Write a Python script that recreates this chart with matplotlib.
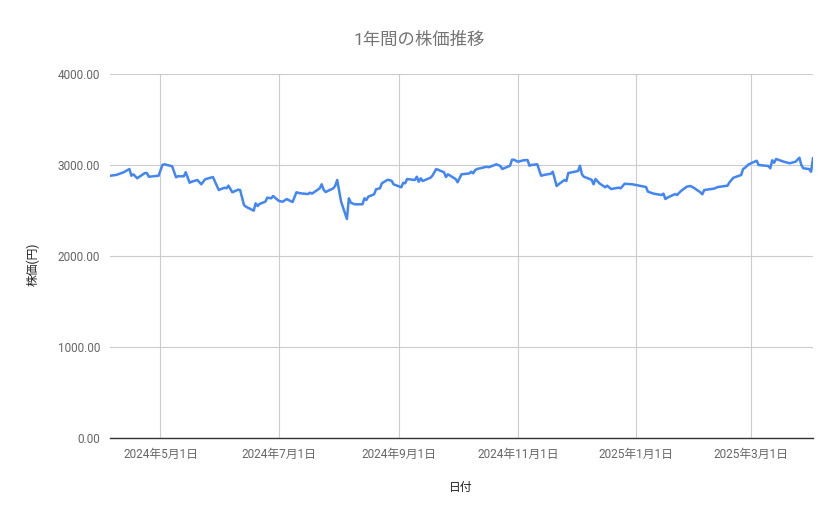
import matplotlib
matplotlib.use("Agg")
import matplotlib.pyplot as plt
import matplotlib.dates as mdates
import numpy as np
import pandas as pd

plt.rcParams["font.family"] = ["Roboto", "Noto Sans CJK JP", "DejaVu Sans"]

# 日付と終値
dates = [
    "2024-04-05", "2024-04-08", "2024-04-10", "2024-04-12", "2024-04-15", "2024-04-16",
    "2024-04-17", "2024-04-19", "2024-04-23", "2024-04-24", "2024-04-25", "2024-04-30",
    "2024-05-02", "2024-05-03", "2024-05-07", "2024-05-09", "2024-05-10", "2024-05-13",
    "2024-05-14", "2024-05-16", "2024-05-17", "2024-05-20", "2024-05-22", "2024-05-24",
    "2024-05-28", "2024-05-31", "2024-06-03", "2024-06-04", "2024-06-05", "2024-06-07",
    "2024-06-10", "2024-06-11", "2024-06-13", "2024-06-14", "2024-06-18", "2024-06-19",
    "2024-06-20", "2024-06-21", "2024-06-24", "2024-06-25", "2024-06-27", "2024-06-28",
    "2024-07-01", "2024-07-03", "2024-07-05", "2024-07-08", "2024-07-10", "2024-07-12",
    "2024-07-16", "2024-07-17", "2024-07-18", "2024-07-22", "2024-07-23", "2024-07-24",
    "2024-07-25", "2024-07-29", "2024-07-30", "2024-07-31", "2024-08-02", "2024-08-05",
    "2024-08-06", "2024-08-07", "2024-08-09", "2024-08-13", "2024-08-14", "2024-08-15",
    "2024-08-16", "2024-08-19", "2024-08-20", "2024-08-22", "2024-08-23", "2024-08-26",
    "2024-08-28", "2024-08-29", "2024-09-02", "2024-09-03", "2024-09-04", "2024-09-05",
    "2024-09-09", "2024-09-10", "2024-09-11", "2024-09-12", "2024-09-13", "2024-09-17",
    "2024-09-18", "2024-09-20", "2024-09-24", "2024-09-25", "2024-09-26", "2024-09-30",
    "2024-10-01", "2024-10-03", "2024-10-07", "2024-10-08", "2024-10-09", "2024-10-10",
    "2024-10-11", "2024-10-16", "2024-10-17", "2024-10-21", "2024-10-23", "2024-10-24",
    "2024-10-28", "2024-10-29", "2024-10-30", "2024-11-01", "2024-11-04", "2024-11-06",
    "2024-11-07", "2024-11-08", "2024-11-11", "2024-11-13", "2024-11-15", "2024-11-18",
    "2024-11-19", "2024-11-21", "2024-11-22", "2024-11-25", "2024-11-26", "2024-11-27",
    "2024-11-29", "2024-12-02", "2024-12-03", "2024-12-04", "2024-12-05", "2024-12-09",
    "2024-12-10", "2024-12-11", "2024-12-13", "2024-12-16", "2024-12-17", "2024-12-19",
    "2024-12-23", "2024-12-24", "2024-12-26", "2024-12-30", "2025-01-06", "2025-01-07",
    "2025-01-10", "2025-01-14", "2025-01-15", "2025-01-16", "2025-01-17", "2025-01-21",
    "2025-01-22", "2025-01-24", "2025-01-27", "2025-01-29", "2025-01-31", "2025-02-03",
    "2025-02-04", "2025-02-05", "2025-02-10", "2025-02-12", "2025-02-17", "2025-02-18",
    "2025-02-20", "2025-02-24", "2025-02-25", "2025-02-26", "2025-02-28", "2025-03-04",
    "2025-03-05", "2025-03-10", "2025-03-11", "2025-03-12", "2025-03-13", "2025-03-14",
    "2025-03-18", "2025-03-21", "2025-03-24", "2025-03-26", "2025-03-27", "2025-03-28",
    "2025-03-31", "2025-04-01", "2025-04-02",
]
prices = [
    2882, 2890, 2904, 2920, 2956, 2882,
    2898, 2854, 2912, 2912, 2871, 2882,
    3000, 3008, 2986, 2865, 2876, 2876,
    2920, 2805, 2816, 2835, 2788, 2843,
    2868, 2725, 2751, 2744, 2773, 2700,
    2729, 2725, 2560, 2542, 2498, 2579,
    2549, 2571, 2597, 2641, 2634, 2659,
    2604, 2597, 2626, 2593, 2700, 2689,
    2681, 2696, 2685, 2744, 2788, 2729,
    2703, 2744, 2773, 2835, 2597, 2407,
    2634, 2586, 2568, 2568, 2634, 2615,
    2652, 2678, 2733, 2744, 2799, 2838,
    2827, 2788, 2755, 2805, 2799, 2846,
    2835, 2871, 2816, 2854, 2824, 2860,
    2882, 2956, 2920, 2868, 2898, 2846,
    2810, 2898, 2907, 2926, 2909, 2942,
    2956, 2981, 2975, 3008, 2989, 2956,
    2992, 3058, 3058, 3036, 3052, 3055,
    2992, 3000, 3008, 2882, 2893, 2904,
    2926, 2769, 2788, 2835, 2824, 2912,
    2920, 2934, 2992, 2898, 2871, 2838,
    2788, 2846, 2799, 2755, 2773, 2736,
    2751, 2744, 2794, 2788, 2758, 2707,
    2685, 2670, 2685, 2626, 2641, 2681,
    2670, 2714, 2762, 2769, 2744, 2700,
    2678, 2725, 2740, 2758, 2773, 2810,
    2860, 2890, 2956, 2970, 3008, 3047,
    3000, 2989, 2964, 3052, 3025, 3066,
    3036, 3019, 3036, 3080, 3000, 2964,
    2956, 2926, 3074,
]

x = pd.to_datetime(dates)
y_ticks = [0, 1000, 2000, 3000, 4000]
x_ticks = pd.to_datetime(["2024-05-01", "2024-07-01", "2024-09-01",
                          "2024-11-01", "2025-01-01", "2025-03-01"])

fig = plt.figure(figsize=(8.39, 5.19), dpi=100)
ax = fig.add_axes([110 / 839, 1 - 438 / 519, 703 / 839, 364 / 519])

ax.plot(x, prices, color="#4285f4", linewidth=1.8, solid_joinstyle="round")

ax.set_xlim(x[0], x[-1])
ax.set_ylim(0, 4000)
ax.set_yticks(y_ticks)
ax.set_yticklabels(["%.2f" % v for v in y_ticks])
ax.set_xticks(x_ticks)
ax.set_xticklabels([f"{d.year}年{d.month}月{d.day}日" for d in x_ticks])

ax.grid(True, color="#cccccc", linewidth=0.8)
ax.set_axisbelow(True)
for s in ["top", "right", "left"]:
    ax.spines[s].set_visible(False)
ax.spines["bottom"].set_color("#333333")
ax.spines["bottom"].set_linewidth(1.0)
ax.tick_params(length=0, labelsize=8.5, labelcolor="#666666", pad=7)

# 軸ラベル
fig.text(461 / 839, 1 - 487 / 519, "日付", ha="center", va="center",
         fontsize=8.5, color="#222222")
fig.text(33 / 839, 1 - 264 / 519, "株価(円)", ha="center", va="center",
         rotation=90, fontsize=8.5, color="#222222")

fig.text(0.5, 1 - 40 / 519, "1年間の株価推移", ha="center", va="center",
         fontsize=12.5, color="#757575")

fig.savefig("out.png", dpi=100, facecolor="white")
